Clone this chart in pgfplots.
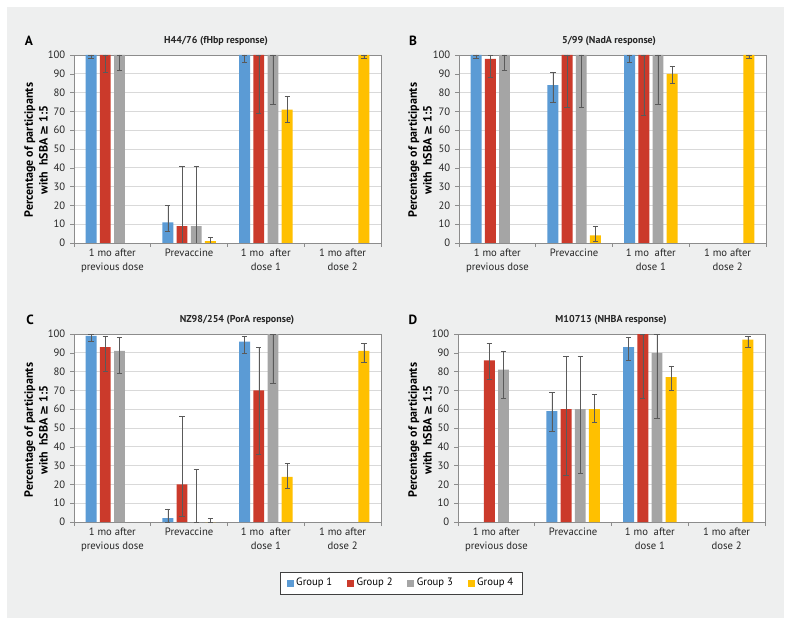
\documentclass[border=0pt]{standalone}
\usepackage{pgfplots}
\pgfplotsset{compat=1.18}
\usepackage{fontspec}
\setmainfont{PT Sans}
\newfontfamily\symfont{DejaVu Sans}

\definecolor{g1}{HTML}{5B9BD5}
\definecolor{g2}{HTML}{CB3A2B}
\definecolor{g3}{HTML}{A5A5A5}
\definecolor{g4}{HTML}{FFC000}
\definecolor{bg}{HTML}{EEEFEF}
\definecolor{errc}{HTML}{5A5A5A}
\definecolor{axc}{HTML}{8C8C8C}
\definecolor{gridc}{HTML}{D9D9D9}

% 1 px of the reference = 0.75pt
\pgfplotsset{
  panel/.style={
    scale only axis, width=230.25pt, height=141pt, anchor=south west,
    axis background/.style={fill=white},
    xmin=0.5, xmax=4.5, ymin=0, ymax=100,
    ytick={0,10,...,100},
    xtick={0.5,1.5,2.5,3.5,4.5}, xticklabels={},
    extra x ticks={1,2,3,4},
    extra x tick labels={1 mo after\\previous dose, Prevaccine, 1 mo\ \ after\\dose 1, 1 mo after\\dose 2},
    extra x tick style={major tick length=0pt, grid=none},
    xticklabel style={align=center, font=\fontsize{8}{10.5}\selectfont, text=black!85, yshift=-1pt},
    yticklabel style={font=\fontsize{8}{10}\selectfont, text=black!85},
    /pgf/number format/assume math mode=true,
    tick pos=left, tick align=outside, major tick length=3pt,
    tick style={axc, line width=0.4pt},
    axis line style={axc, line width=0.5pt},
    ymajorgrids, grid style={gridc, line width=0.5pt},
  },
  % each group sits at its own offset inside the category slot
  bp/.style 2 args={ybar, bar width=8.2pt, bar shift=0pt, fill=#1, draw=none,
    x filter/.expression={x+#2},
    legend image code/.code={\fill[#1] (0pt,-2.6pt) rectangle (5.2pt,2.6pt);},
    error bars/.cd, y dir=both, y explicit,
    error bar style={errc, line width=0.4pt},
    error mark options={rotate=90, errc, mark size=2pt, line width=0.4pt}},
  b1/.style={bp={g1}{-0.2775}},
  b2/.style={bp={g2}{-0.0925}},
  b3/.style={bp={g3}{0.0925}},
  b4/.style={bp={g4}{0.2775}},
}

\begin{document}
\begin{tikzpicture}
\fill[white] (0pt,0pt) rectangle (593.25pt,468.75pt);
\fill[bg] (5.25pt,5.25pt) rectangle (588pt,463.5pt);

% A
\begin{axis}[panel, at={(55.5pt,286.5pt)}]
\addplot[b1] coordinates {(1,100) += (0,0) -= (0,2) (2,11) += (0,9) -= (0,5) (3,100) += (0,0) -= (0,4)};
\addplot[b2] coordinates {(1,100) += (0,0) -= (0,9) (2,9) += (0,32) -= (0,9) (3,100) += (0,0) -= (0,31)};
\addplot[b3] coordinates {(1,100) += (0,0) -= (0,8) (2,9) += (0,32) -= (0,9) (3,100) += (0,0) -= (0,26)};
\addplot[b4] coordinates {(2,1) += (0,2) -= (0,1) (3,71) += (0,7) -= (0,7) (4,100) += (0,0) -= (0,2)};
\end{axis}

% B
\begin{axis}[panel, at={(344.25pt,286.5pt)}]
\addplot[b1] coordinates {(1,100) += (0,0) -= (0,2) (2,84) += (0,7) -= (0,9) (3,100) += (0,0) -= (0,4)};
\addplot[b2] coordinates {(1,98) += (0,2) -= (0,10) (2,100) += (0,0) -= (0,28) (3,100) += (0,0) -= (0,32)};
\addplot[b3] coordinates {(1,100) += (0,0) -= (0,8) (2,100) += (0,0) -= (0,28) (3,100) += (0,0) -= (0,26)};
\addplot[b4] coordinates {(2,4) += (0,5) -= (0,3) (3,90) += (0,4) -= (0,5) (4,100) += (0,0) -= (0,2)};
\end{axis}

% C
\begin{axis}[panel, at={(55.5pt,77.25pt)},
  legend style={at={(1.066,-0.325)}, anchor=center, legend columns=4,
    draw=black!75, fill=white, font=\fontsize{8}{10}\selectfont,
    inner xsep=5pt, inner ysep=2.5pt,
    /tikz/every even column/.append style={column sep=9pt}}]
\addplot[b1] coordinates {(1,99) += (0,1) -= (0,3) (2,2) += (0,5) -= (0,2) (3,96) += (0,3) -= (0,6)};
\addplot[b2] coordinates {(1,93) += (0,6) -= (0,13) (2,20) += (0,36) -= (0,17) (3,70) += (0,23) -= (0,34)};
\addplot[b3] coordinates {(1,91) += (0,7) -= (0,12) (2,0) += (0,28) -= (0,0) (3,100) += (0,0) -= (0,26)};
\addplot[b4] coordinates {(2,0) += (0,2) -= (0,0) (3,24) += (0,7) -= (0,6) (4,91) += (0,4) -= (0,6)};
\legend{Group 1, Group 2, Group 3, Group 4}
\end{axis}

% D
\begin{axis}[panel, at={(343.5pt,77.25pt)}]
\addplot[b1] coordinates {(2,59) += (0,10) -= (0,11) (3,93) += (0,5) -= (0,7)};
\addplot[b2] coordinates {(1,86) += (0,9) -= (0,10) (2,60) += (0,28) -= (0,35) (3,100) += (0,0) -= (0,34)};
\addplot[b3] coordinates {(1,81) += (0,10) -= (0,15) (2,60) += (0,28) -= (0,34) (3,90) += (0,10) -= (0,35)};
\addplot[b4] coordinates {(2,60) += (0,8) -= (0,7) (3,77) += (0,6) -= (0,7) (4,97) += (0,2) -= (0,4)};
\end{axis}

% panel letters, titles, y labels
\tikzset{lett/.style={font=\bfseries\fontsize{10}{12}\selectfont},
  ttl/.style={font=\bfseries\fontsize{7.5}{9}\selectfont, text=black!85},
  ylab/.style={font=\bfseries\fontsize{9}{11}\selectfont, align=center, rotate=90}}
\node[lett] at (21.75pt,438pt) {A};
\node[lett] at (309.75pt,438pt) {B};
\node[lett] at (22.5pt,228.75pt) {C};
\node[lett] at (309.75pt,228.75pt) {D};
\node[ttl] at (162pt,438pt) {H44/76 (fHbp response)};
\node[ttl] at (456.75pt,438pt) {5/99 (NadA response)};
\node[ttl] at (177.75pt,228.75pt) {NZ98/254 (PorA response)};
\node[ttl] at (458.25pt,228.75pt) {M10713 (NHBA response)};
\node[ylab] at (27pt,356.25pt) {Percentage of participants\\with\ \ hSBA {\symfont\bfseries ≥} 1:5};
\node[ylab] at (315pt,356.25pt) {Percentage of participants\\with\ \ hSBA {\symfont\bfseries ≥} 1:5};
\node[ylab] at (27pt,146.25pt) {Percentage of participants\\with\ \ hSBA {\symfont\bfseries ≥} 1:5};
\node[ylab] at (315pt,146.25pt) {Percentage of participants\\with\ \ hSBA {\symfont\bfseries ≥} 1:5};
\end{tikzpicture}
\end{document}
